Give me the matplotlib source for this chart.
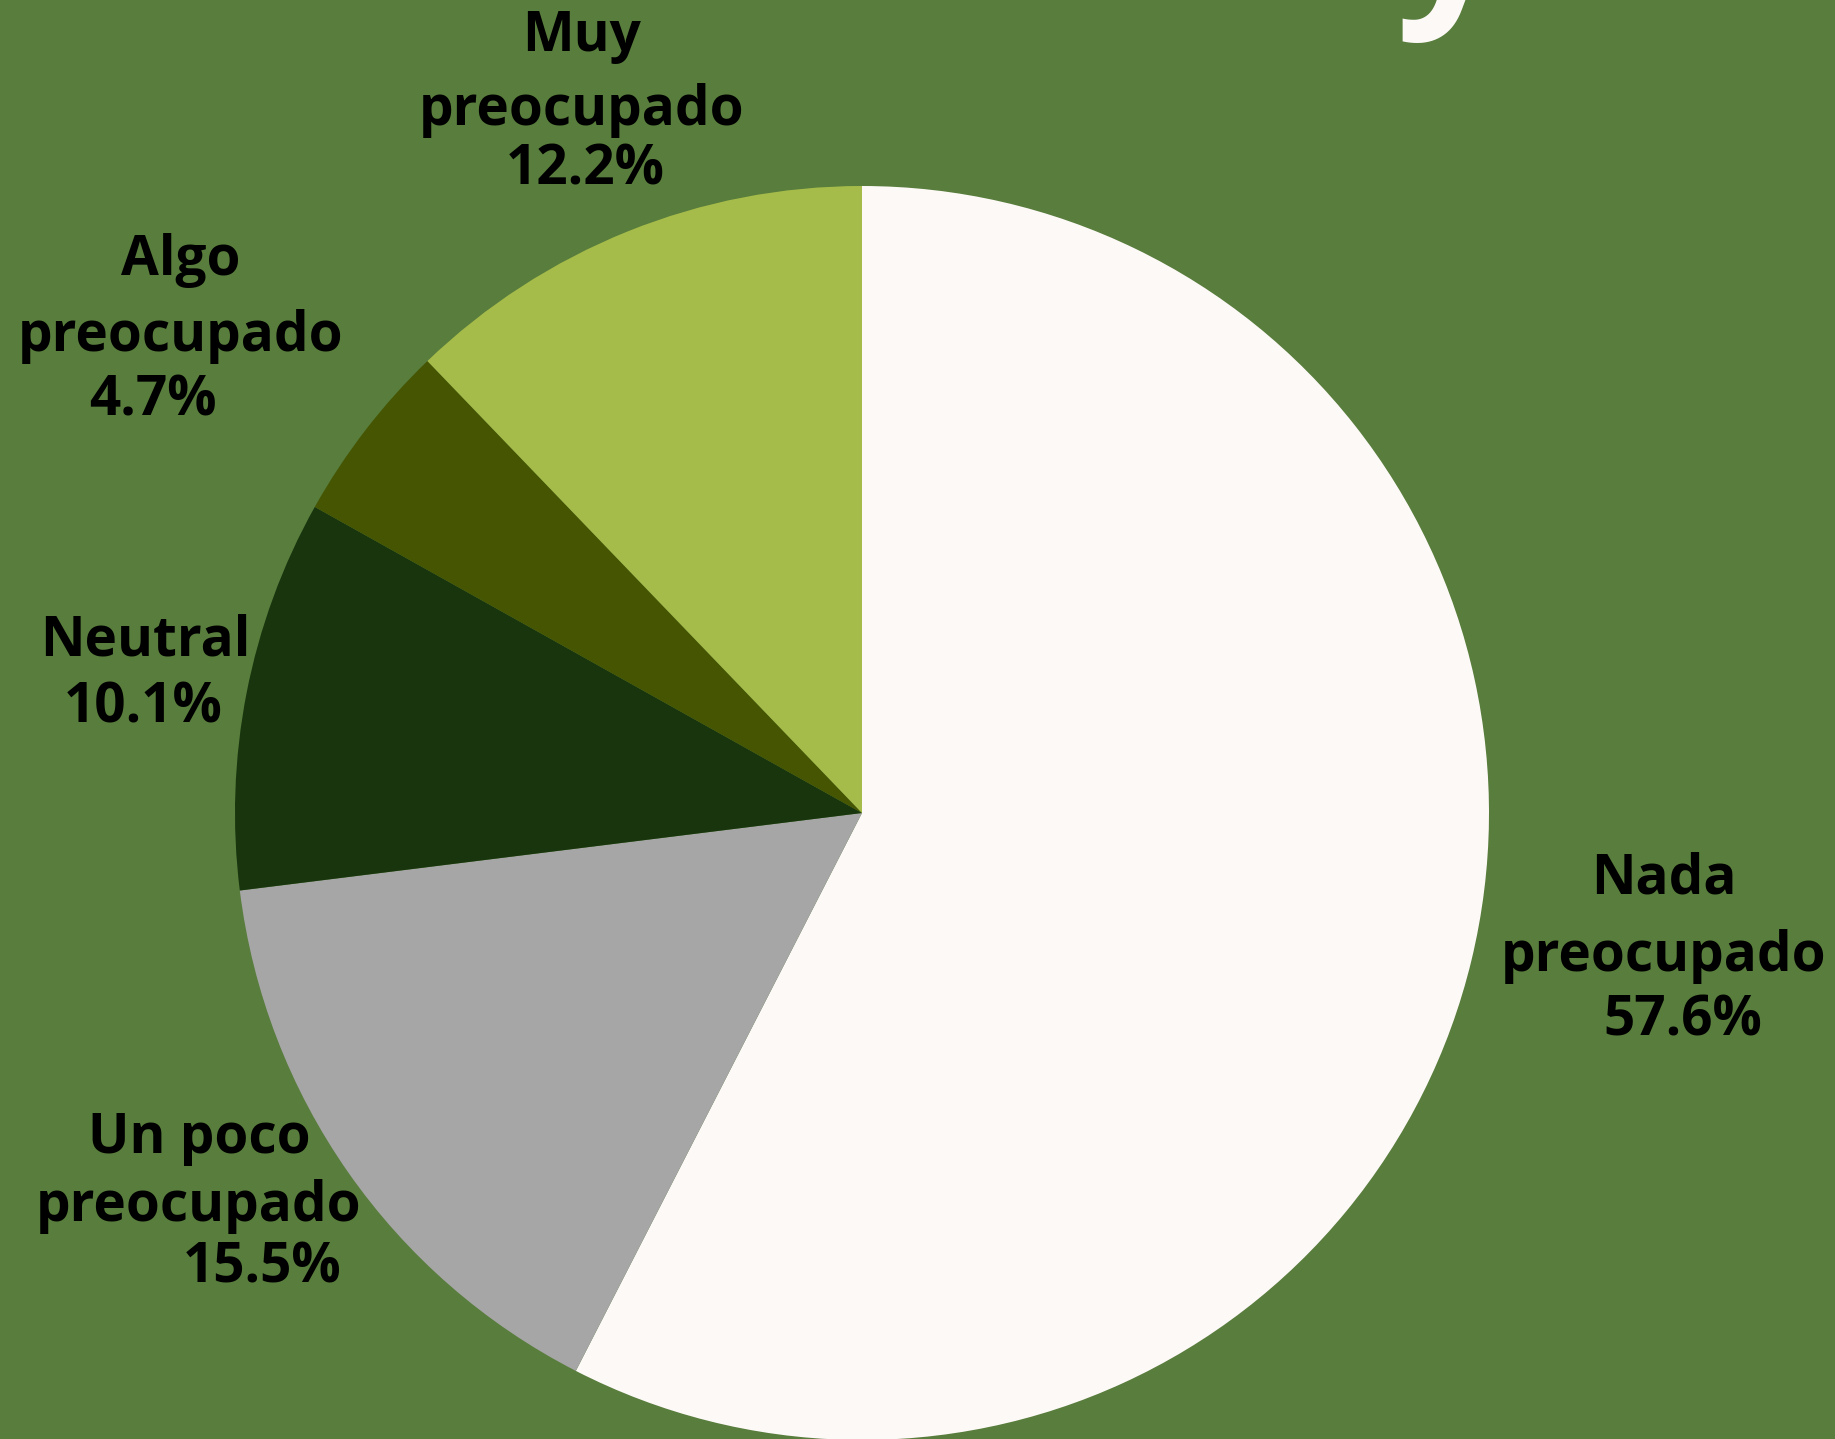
import matplotlib.pyplot as plt

# data
labels = ['Nada preocupado', 'Un poco preocupado', 'Neutral', 'Algo preocupado', 'Muy preocupado']
values = [57.6, 15.5, 10.1, 4.7, 12.2]
colors = ['#fdf9f7', '#a6a6a6', '#18350e', '#455502', '#a6bc4a']

W, H = 1835, 1439
bg = '#587d3c'

fig = plt.figure(figsize=(W / 100, H / 100), dpi=100, facecolor=bg)
ax = fig.add_axes([0, 0, 1, 1])
ax.set_facecolor(bg)

ax.pie(values, colors=colors, startangle=90, counterclock=False,
       center=(862, H - 813), radius=627, wedgeprops={'linewidth': 0})
ax.set_xlim(0, W)
ax.set_ylim(0, H)
ax.set_aspect('auto')
ax.axis('off')

font = dict(family=['Open Sans', 'DejaVu Sans'], fontweight='bold', fontsize=39.5,
            color='black', ha='center', va='center')

# label lines (pixel positions, y from top)
text_lines = [
    ('Muy', 582, 37), ('preocupado', 582, 111), ('12.2%', 585, 170),
    ('Algo', 181, 261), ('preocupado', 181, 337), ('4.7%', 153, 401),
    ('Neutral', 145, 641), ('10.1%', 143, 708),
    ('Un poco', 199, 1139), ('preocupado', 199, 1206), ('15.5%', 262, 1268),
    ('Nada', 1664, 879), ('preocupado', 1664, 956), ('57.6%', 1683, 1021),
]
for txt, x, y in text_lines:
    ax.text(x, H - y, txt, **font)

# bit of the cut-off title at the top
ax.text(1450, H + 4, 'y', family=['Open Sans', 'DejaVu Sans'], fontweight='bold',
        fontsize=140, color='#fdf9f7', ha='center', va='baseline')

fig.savefig('out.png', dpi=100, facecolor=bg)
